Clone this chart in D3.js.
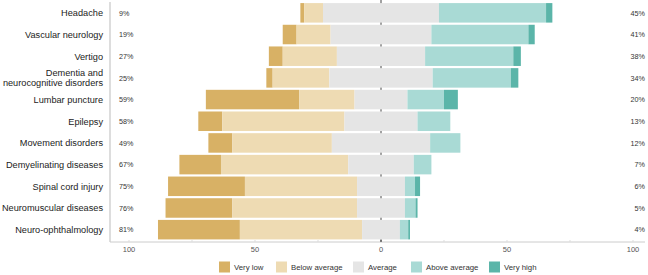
<!DOCTYPE html>
<html>
<head>
<meta charset="utf-8">
<script src="https://cdn.jsdelivr.net/npm/d3@7"></script>
<style>
  body { margin: 0; background: #fff; }
  text { font-family: "Liberation Sans", Arial, sans-serif; }
</style>
</head>
<body>
<svg id="chart" width="648" height="275"></svg>
<script>
// categories, top to bottom
const categories = ["Headache", "Vascular neurology", "Vertigo", "Dementia and neurocognitive disorders",
  "Lumbar puncture", "Epilepsy", "Movement disorders", "Demyelinating diseases",
  "Spinal cord injury", "Neuromuscular diseases", "Neuro-ophthalmology"];

// share of answers per level (%)
const veryLow      = [1.5, 5.5, 5.5, 2.5, 37, 9.5, 9.5, 16.5, 30.5, 26.5, 32.5];
const belowAverage = [7.5, 13.5, 21.5, 22.5, 22, 48.5, 39.5, 50.5, 44.5, 49.5, 48.5];
const average      = [46, 40, 35, 41, 21, 29, 39, 26, 19, 19, 15];
const aboveAverage = [42.5, 38.5, 35, 31, 14.5, 13, 12, 7, 4, 4.2, 3.3];
const veryHigh     = [2.5, 2.5, 3, 3, 5.5, 0, 0, 0, 2, 0.8, 0.7];

const leftLabels  = ["9%", "19%", "27%", "25%", "59%", "58%", "49%", "67%", "75%", "76%", "81%"];
const rightLabels = ["45%", "41%", "38%", "34%", "20%", "13%", "12%", "7%", "6%", "5%", "4%"];

const levels = ["Very low", "Below average", "Average", "Above average", "Very high"];
const colors = ["#d8b165", "#eedbb3", "#e5e5e5", "#a9dad5", "#5bb5a9"];
const series = [veryLow, belowAverage, average, aboveAverage, veryHigh];

const xTicks = [-100, -50, 0, 50, 100];

const svg = d3.select("#chart");

const x = d3.scaleLinear().domain([-100, 100]).range([129, 633]);
const y = d3.scaleBand().domain(categories).range([2, 240.5]).paddingInner(0.1).paddingOuter(0.05);

// build segments: average is centred on zero
const rows = categories.map((c, i) => {
  let start = -(veryLow[i] + belowAverage[i] + average[i] / 2);
  return series.map((s, k) => {
    const seg = { cat: c, level: k, x0: start, x1: start + s[i] };
    start += s[i];
    return seg;
  });
});

// zero line behind bars
svg.append("line")
  .attr("x1", x(0)).attr("x2", x(0))
  .attr("y1", 0).attr("y2", 242)
  .attr("stroke", "#444").attr("stroke-width", 1);

svg.append("g").selectAll("rect")
  .data(rows.flat().filter(d => d.x1 > d.x0))
  .join("rect")
  .attr("x", d => x(d.x0))
  .attr("y", d => y(d.cat))
  .attr("width", d => x(d.x1) - x(d.x0))
  .attr("height", y.bandwidth())
  .attr("fill", d => colors[d.level]);

// axes lines
svg.append("line")
  .attr("x1", 110).attr("x2", 110).attr("y1", 2).attr("y2", 242)
  .attr("stroke", "#bbb");
svg.append("line")
  .attr("x1", 110).attr("x2", 645).attr("y1", 242).attr("y2", 242)
  .attr("stroke", "#ccc");

// minor ticks
svg.append("g").selectAll("line")
  .data(d3.range(-100, 101, 25))
  .join("line")
  .attr("x1", d => x(d)).attr("x2", d => x(d))
  .attr("y1", 240).attr("y2", 242)
  .attr("stroke", d => d === 0 ? "#444" : "#ddd");

svg.append("g").selectAll("text")
  .data(xTicks)
  .join("text")
  .attr("x", d => x(d))
  .attr("y", 252)
  .attr("text-anchor", "middle")
  .attr("font-size", 7.5)
  .attr("fill", "#555")
  .text(d => Math.abs(d));

// category labels
svg.append("g").selectAll("text")
  .data(categories)
  .join("text")
  .attr("text-anchor", "end")
  .attr("font-size", 9.2)
  .attr("fill", "#222")
  .each(function(d) {
    const t = d3.select(this);
    const cy = y(d) + y.bandwidth() / 2;
    if (d.startsWith("Dementia")) {
      t.append("tspan").attr("x", 103).attr("y", cy - 2).text("Dementia and");
      t.append("tspan").attr("x", 103).attr("y", cy + 8.5).text("neurocognitive disorders");
    } else {
      t.attr("x", 103).attr("y", cy + 3.3).text(d);
    }
  });

// percentage labels
svg.append("g").selectAll("text")
  .data(categories)
  .join("text")
  .attr("x", 119)
  .attr("y", d => y(d) + y.bandwidth() / 2 + 2.7)
  .attr("font-size", 7.2)
  .attr("fill", "#333")
  .text((d, i) => leftLabels[i]);

svg.append("g").selectAll("text")
  .data(categories)
  .join("text")
  .attr("x", 645)
  .attr("y", d => y(d) + y.bandwidth() / 2 + 2.7)
  .attr("text-anchor", "end")
  .attr("font-size", 7.2)
  .attr("fill", "#333")
  .text((d, i) => rightLabels[i]);

// legend
const legendX = [219, 276, 353, 411, 489];
const legend = svg.append("g").selectAll("g")
  .data(levels)
  .join("g")
  .attr("transform", (d, i) => `translate(${legendX[i]},261.5)`);
legend.append("rect")
  .attr("width", 11).attr("height", 11)
  .attr("fill", (d, i) => colors[i]);
legend.append("text")
  .attr("x", 15).attr("y", 8.5)
  .attr("font-size", 7.8)
  .attr("fill", "#333")
  .text(d => d);
</script>
</body>
</html>
